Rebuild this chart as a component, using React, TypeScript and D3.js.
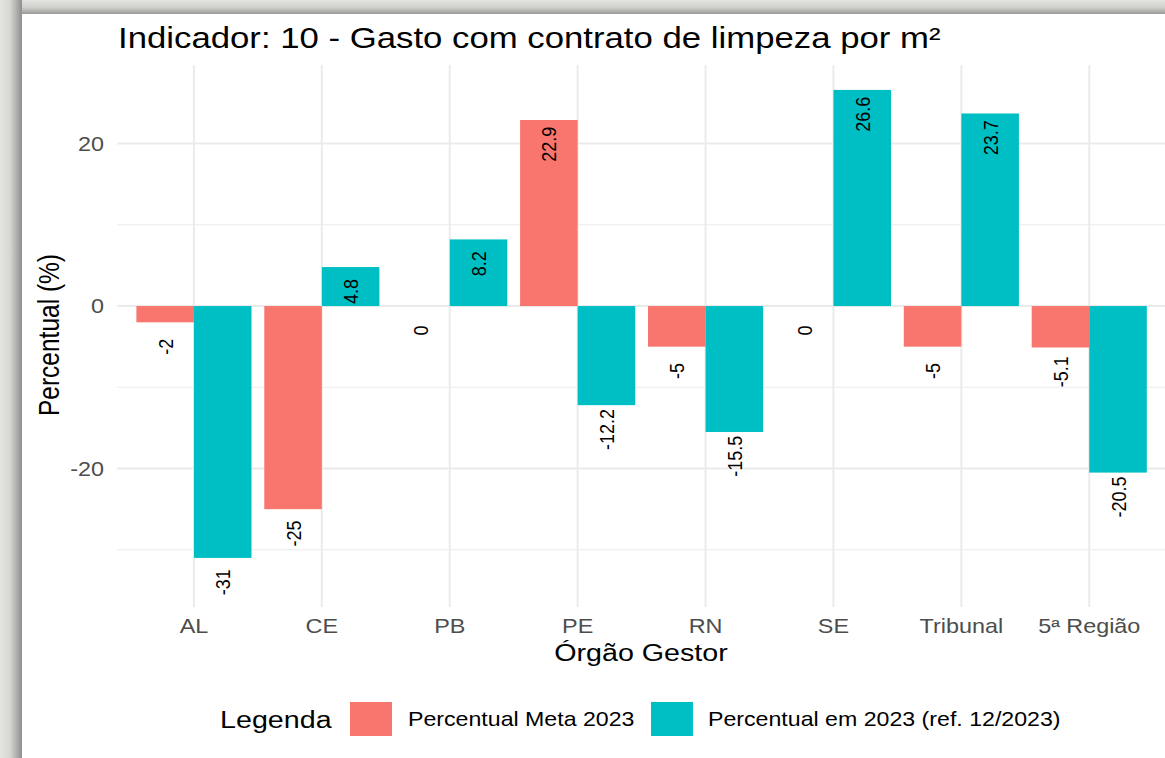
import React from "react";
import * as d3 from "d3";

const categories = ["AL", "CE", "PB", "PE", "RN", "SE", "Tribunal", "5ª Região"];
const metaValues = [-2, -25, 0, 22.9, -5, 0, -5, -5.1];
const atualValues = [-31, 4.8, 8.2, -12.2, -15.5, 26.6, 23.7, -20.5];
const seriesNames = ["Percentual Meta 2023", "Percentual em 2023 (ref. 12/2023)"];
const seriesColors = ["#F8766D", "#00BFC4"];
const majorTicks = [-20, 0, 20];
const minorTicks = [-30, -10, 10];
const labelOffset = 3;

const W = 1165;
const H = 758;
const SX = 1.17;
const FONT = "'Liberation Sans', Arial, Helvetica, sans-serif";

const panel = { left: 117.2, right: 1166, top: 65.3, bottom: 606.9 };

function T(props: {
  x: number;
  y: number;
  size: number;
  anchor?: string;
  fill?: string;
  rotate?: number;
  baseline?: string;
  children: React.ReactNode;
}) {
  const { x, y, size, anchor = "start", fill = "#000", rotate = 0, baseline } = props;
  return (
    <text
      transform={`translate(${x},${y}) scale(${SX},1) rotate(${rotate})`}
      fontSize={size}
      fontFamily={FONT}
      textAnchor={anchor}
      fill={fill}
      dominantBaseline={baseline}
    >
      {props.children}
    </text>
  );
}

export default function App() {
  const all = [...metaValues, ...atualValues];
  const labelsY = all.map((v) => v - labelOffset);
  const lo = Math.min(0, ...all, ...labelsY);
  const hi = Math.max(0, ...all, ...labelsY);
  const r = hi - lo;
  const y = d3
    .scaleLinear()
    .domain([lo - 0.05 * r, hi + 0.05 * r])
    .range([panel.bottom, panel.top]);
  const x = d3
    .scaleBand<string>()
    .domain(categories)
    .range([panel.left, panel.right])
    .paddingInner(0)
    .paddingOuter(0.1);
  const step = x.step();
  const barW = step * 0.45;
  const cx = (c: string) => (x(c) as number) + x.bandwidth() / 2;

  const series = [metaValues, atualValues];

  return (
    <svg
      width={W}
      height={H}
      style={{ position: "absolute", left: 0, top: 0 }}
      xmlns="http://www.w3.org/2000/svg"
    >
      <defs>
        <linearGradient id="gl" x1="0" x2="1" y1="0" y2="0">
          <stop offset="0" stopColor="#e4e4e0" />
          <stop offset="0.45" stopColor="#d6d6d2" />
          <stop offset="1" stopColor="#8f8f8f" />
        </linearGradient>
        <linearGradient id="gt" x1="0" x2="0" y1="0" y2="1">
          <stop offset="0" stopColor="#e2e2de" />
          <stop offset="0.5" stopColor="#d2d2ce" />
          <stop offset="1" stopColor="#9a9a9a" />
        </linearGradient>
      </defs>
      <rect x={0} y={0} width={W} height={H} fill="#dcdcd8" />
      <rect x={0} y={0} width={W} height={14} fill="url(#gt)" />
      <rect x={0} y={0} width={22} height={H} fill="url(#gl)" />
      <rect x={22} y={14} width={W - 22} height={H - 14} fill="#ffffff" />

      {/* grid */}
      {minorTicks.map((t) => (
        <line
          key={"mi" + t}
          x1={panel.left}
          x2={panel.right}
          y1={y(t)}
          y2={y(t)}
          stroke="#EBEBEB"
          strokeWidth={1.1}
        />
      ))}
      {majorTicks.map((t) => (
        <line
          key={"ma" + t}
          x1={panel.left}
          x2={panel.right}
          y1={y(t)}
          y2={y(t)}
          stroke="#EBEBEB"
          strokeWidth={2}
        />
      ))}
      {categories.map((c) => (
        <line
          key={"v" + c}
          x1={cx(c)}
          x2={cx(c)}
          y1={panel.top}
          y2={panel.bottom}
          stroke="#EBEBEB"
          strokeWidth={2}
        />
      ))}

      {/* bars */}
      {series.map((vals, si) =>
        categories.map((c, i) => {
          const v = vals[i];
          const x0 = cx(c) - barW + si * barW;
          const y0 = Math.min(y(v), y(0));
          const h = Math.abs(y(v) - y(0));
          return (
            <rect
              key={"b" + si + c}
              x={x0}
              y={y0}
              width={barW}
              height={h}
              fill={seriesColors[si]}
            />
          );
        })
      )}

      {/* bar labels */}
      {series.map((vals, si) =>
        categories.map((c, i) => {
          const v = vals[i];
          const lx = cx(c) - barW / 2 + si * barW;
          return (
            <T
              key={"l" + si + c}
              x={lx}
              y={y(v - labelOffset)}
              size={18}
              anchor="middle"
              rotate={-90}
              baseline="central"
            >
              {String(v)}
            </T>
          );
        })
      )}

      {/* y ticks */}
      {majorTicks.map((t) => (
        <T key={"yt" + t} x={104} y={y(t) + 7.3} size={20} anchor="end" fill="#4D4D4D">
          {String(t)}
        </T>
      ))}
      {/* x ticks */}
      {categories.map((c) => (
        <T key={"xt" + c} x={cx(c)} y={633} size={20} anchor="middle" fill="#4D4D4D">
          {c}
        </T>
      ))}

      {/* axis titles */}
      <T x={641} y={661} size={24.5} anchor="middle">
        Órgão Gestor
      </T>
      <T x={59} y={335} size={24.5} anchor="middle" rotate={-90}>
        Percentual (%)
      </T>

      {/* title */}
      <T x={118} y={48} size={29.7}>
        Indicador: 10 - Gasto com contrato de limpeza por m²
      </T>

      {/* legend */}
      <T x={220} y={728} size={24.5}>
        Legenda
      </T>
      <rect x={350} y={702} width={42} height={34} fill={seriesColors[0]} />
      <T x={408} y={726} size={19.8}>
        {seriesNames[0]}
      </T>
      <rect x={651} y={702} width={42} height={34} fill={seriesColors[1]} />
      <T x={708} y={726} size={19.8}>
        {seriesNames[1]}
      </T>
    </svg>
  );
}
